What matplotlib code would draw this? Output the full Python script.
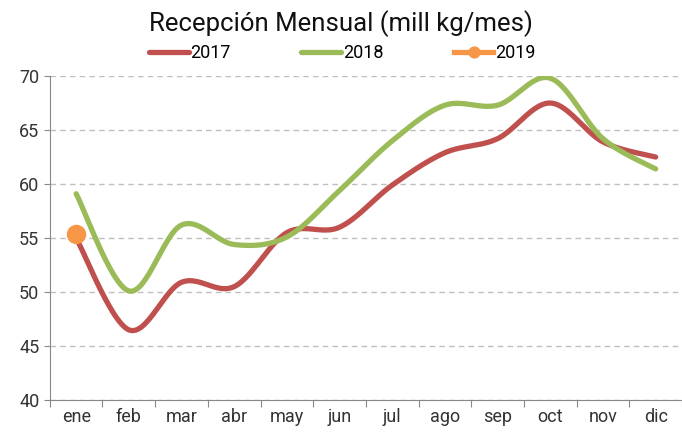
"""
Recepcion mensual de leche, 2017-2019.
"""

import numpy as np
import matplotlib
matplotlib.use("Agg")
import matplotlib.pyplot as plt

MONTHS = ["ene", "feb", "mar", "abr", "may", "jun",
          "jul", "ago", "sep", "oct", "nov", "dic"]
REC_2017 = [55.0, 46.5, 50.9, 50.5, 55.5, 56.0, 59.9, 62.9, 64.2, 67.5, 63.9, 62.5]
REC_2018 = [59.1, 50.1, 56.2, 54.4, 55.1, 59.4, 64.0, 67.3, 67.3, 69.8, 64.2, 61.4]
REC_2019 = [55.4]

COLORS = {"2017": "#C0504D", "2018": "#9BBB59", "2019": "#F79646"}


def smooth(y, steps=30):
    """Excel-like smoothed line through the points (cubic Bezier, Catmull-Rom tangents)."""
    y = np.asarray(y, dtype=float)
    x = np.arange(len(y), dtype=float)
    if len(y) < 2:
        return x, y
    xs, ys = [], []
    t = np.linspace(0, 1, steps)
    for i in range(len(y) - 1):
        p0 = np.array([x[max(i - 1, 0)], y[max(i - 1, 0)]])
        p1 = np.array([x[i], y[i]])
        p2 = np.array([x[i + 1], y[i + 1]])
        p3 = np.array([x[min(i + 2, len(y) - 1)], y[min(i + 2, len(y) - 1)]])
        c1 = p1 + (p2 - p0) / 6
        c2 = p2 - (p3 - p1) / 6
        pts = ((1 - t) ** 3)[:, None] * p1 + (3 * (1 - t) ** 2 * t)[:, None] * c1 \
            + (3 * (1 - t) * t ** 2)[:, None] * c2 + (t ** 3)[:, None] * p2
        xs.extend(pts[:, 0])
        ys.extend(pts[:, 1])
    return np.array(xs), np.array(ys)


def main():
    plt.rcParams["font.family"] = ["Roboto", "DejaVu Sans"]
    fig = plt.figure(figsize=(6.82, 4.32), dpi=100)
    ax = fig.add_axes([0.073, 0.074, 0.927, 0.75])

    for label, vals in (("2017", REC_2017), ("2018", REC_2018)):
        xs, ys = smooth(vals)
        ax.plot(xs, ys, color=COLORS[label], lw=3.8, solid_capstyle="round", label=label)
    ax.plot(range(len(REC_2019)), REC_2019, color=COLORS["2019"], lw=3.8,
            marker="o", markersize=13, label="2019")

    ax.set_xlim(-0.5, 11.5)
    ax.set_ylim(40, 70)
    ax.set_yticks(range(40, 71, 5))
    ax.set_xticks(np.arange(-0.5, 12, 1))
    ax.set_xticklabels([])
    ax.set_xticks(range(12), minor=True)
    ax.set_xticklabels(MONTHS, minor=True)
    ax.tick_params(axis="x", which="major", length=5, color="#888888", direction="out")
    ax.tick_params(axis="x", which="minor", length=0, labelsize=13, colors="#333333", pad=6)
    ax.tick_params(axis="y", length=4, color="#888888", labelsize=13, labelcolor="#333333")

    ax.grid(axis="y", linestyle=(0, (4, 3)), color="#BFBFBF", lw=1)
    ax.set_axisbelow(True)
    for side in ("top", "right"):
        ax.spines[side].set_visible(False)
    for side in ("left", "bottom"):
        ax.spines[side].set_color("#888888")

    fig.text(0.5, 0.945, "Recepción Mensual (mill kg/mes)", ha="center", va="center",
             fontsize=18.5, color="#111111")
    fig.legend(loc="center", bbox_to_anchor=(0.502, 0.877), ncol=3, frameon=False,
               fontsize=13, handlelength=2.2, handletextpad=0.1, columnspacing=3.9,
               markerscale=0.6)

    fig.savefig("out.png", dpi=100)


if __name__ == "__main__":
    main()
